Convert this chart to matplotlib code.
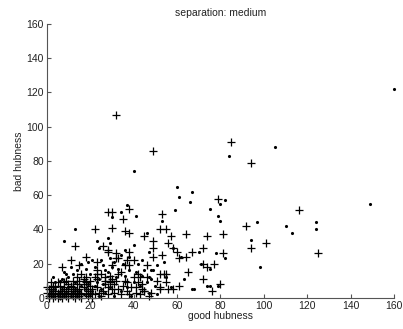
import numpy as np
import matplotlib
matplotlib.use('Agg')
import matplotlib.pyplot as plt

plt.rcParams['font.family'] = ['Liberation Sans', 'DejaVu Sans']

# '+' points (good hubness, bad hubness)
plus_x = [32, 49, 85, 94, 116, 125, 101, 94, 92, 79, 81, 81, 80, 77, 74, 72, 72, 72, 76, 74,
          67, 64, 65, 64, 61, 60, 61, 58, 57, 56, 55, 52, 53, 53, 55, 52, 55, 58, 52, 49,
          49, 49, 45, 46, 43, 44, 44, 41, 40, 38, 38, 35, 36, 38, 36, 34, 32, 32, 30, 28,
          30, 22, 26, 28, 13, 11, 7, 15, 18, 23, 30, 16, 23, 23, 23, 27, 5, 10, 12,
          0, 1, 1, 2, 2, 3, 3, 4, 4, 5, 5, 6, 6, 7, 7, 8, 8, 9, 9, 10, 10, 11, 11, 12, 12,
          13, 13, 14, 14, 15, 15, 16, 16, 17, 17, 18, 18, 19, 19, 20, 20, 21, 21, 22, 22,
          23, 24, 25, 25, 26, 27, 27, 28, 28, 29, 29, 30, 30, 31, 31, 32, 33, 33, 34, 35,
          36, 37, 37, 38, 39, 40, 41, 42, 43, 45, 47, 48, 2, 3, 5, 8, 9, 12, 14, 15, 17,
          18, 20, 10, 6, 4, 1, 0, 28, 33, 37, 38, 42, 46, 51, 54, 56, 52, 45, 29,
          3, 6, 9, 11, 14, 16, 19]
plus_y = [107, 86, 91, 79, 51, 26, 32, 29, 42, 58, 37, 26, 8, 20, 18, 20, 29, 11, 4, 36,
          27, 37, 15, 24, 23, 27, 7, 29, 36, 32, 40, 40, 49, 25, 14, 14, 9, 5, 6, 29,
          33, 24, 36, 19, 12, 8, 5, 6, 22, 38, 52, 46, 39, 27, 19, 15, 26, 23, 50, 50,
          41, 40, 30, 28, 30, 22, 18, 19, 24, 21, 19, 14, 16, 14, 11, 8, 9, 8, 6,
          3, 5, 1, 2, 6, 0, 4, 1, 6, 2, 0, 4, 1, 3, 0, 2, 6, 1, 4, 0, 3, 2, 7, 1, 4,
          0, 3, 2, 8, 1, 5, 0, 3, 6, 11, 2, 9, 4, 1, 7, 3, 5, 0, 12, 2,
          6, 3, 14, 1, 4, 10, 12, 6, 2, 13, 9, 11, 5, 3, 8, 10, 5, 14, 2, 7,
          10, 4, 9, 2, 6, 12, 3, 9, 2, 4, 1, 3, 9, 7, 3, 9, 10, 10, 12, 10, 8,
          12, 10, 5, 7, 3, 0, 6, 27, 23, 22, 19, 14, 12, 10, 14, 5, 5, 4, 10,
          2, 2, 2, 5, 4, 2, 2]

# '.' points
dot_x = [160, 105, 84, 149, 40, 60, 67, 61, 66, 59, 75, 82, 80, 79, 80, 97, 110, 113, 124, 124,
         94, 98, 82, 34, 37, 41, 30, 28, 13, 8, 23, 24, 46, 53, 68, 74, 58, 62, 49, 51,
         47, 54, 55, 63, 57, 67, 75, 79, 78, 70, 75, 71,
         1, 2, 3, 4, 5, 6, 6, 7, 8, 9, 10, 11, 12, 13, 14, 15, 16, 17, 18, 19,
         20, 21, 22, 23, 24, 25, 26, 27, 28, 29, 30, 31, 32, 33, 34, 35, 36, 37, 38, 39,
         40, 41, 42, 43, 44, 45, 46, 47, 48, 50, 51, 20, 18, 14, 12, 10, 8, 6, 4, 3,
         22, 25, 27, 31, 34, 26, 21, 19, 16, 11, 9, 7, 13, 17, 24, 29, 36, 38, 44, 47,
         48, 40, 29]
dot_y = [122, 88, 83, 55, 74, 65, 62, 59, 56, 51, 52, 57, 55, 48, 45, 44, 42, 38, 44, 40,
         34, 18, 23, 50, 54, 48, 47, 35, 40, 33, 33, 29, 38, 45, 5, 7, 29, 24, 16, 19,
         12, 21, 12, 11, 6, 5, 7, 7, 26, 27, 17, 20,
         2, 4, 1, 5, 2, 0, 3, 5, 1, 3, 6, 1, 3, 5, 1, 4, 7, 2, 5, 8,
         2, 4, 7, 9, 1, 5, 8, 3, 15, 6, 18, 1, 12, 17, 4, 20, 13, 6, 16, 1,
         9, 15, 20, 7, 13, 16, 9, 3, 11, 7, 2, 14, 17, 16, 14, 12, 15, 10, 9, 12,
         18, 22, 16, 21, 25, 19, 22, 21, 20, 18, 14, 11, 9, 10, 11, 23, 28, 24, 22, 27,
         16, 31, 32]

fig = plt.figure(figsize=(4.03, 3.29), dpi=100)
ax = fig.add_axes([0.116, 0.095, 0.862, 0.832])

ax.plot(plus_x, plus_y, '+', color='black', ms=6, mew=0.9, linestyle='none', clip_on=False)
ax.plot(dot_x, dot_y, '.', color='black', ms=2.5, linestyle='none', clip_on=False)

ax.set_xlim(0, 160)
ax.set_ylim(0, 160)
ax.set_xticks(np.arange(0, 161, 20))
ax.set_yticks(np.arange(0, 161, 20))
ax.spines['top'].set_visible(False)
ax.spines['right'].set_visible(False)
for s in ['left', 'bottom']:
    ax.spines[s].set_color('#555555')
    ax.spines[s].set_linewidth(0.8)
ax.tick_params(direction='in', length=3, width=0.8, color='#555555',
               labelcolor='#222222', labelsize=7.5, pad=2)

ax.set_xlabel('good hubness', fontsize=7.5, labelpad=0, color='#222222')
ax.set_ylabel('bad hubness', fontsize=7.5, labelpad=2, color='#222222')
ax.set_title('separation: medium', fontsize=7.5, pad=6, color='#222222')

fig.savefig('out.png', dpi=100)
